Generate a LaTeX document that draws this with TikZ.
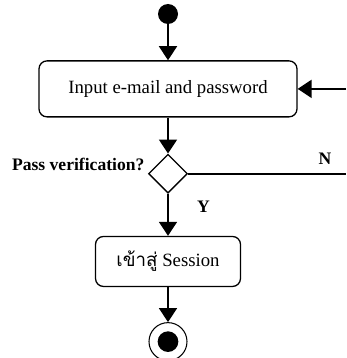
\documentclass[tikz,border=0pt]{standalone}
\usepackage{fontspec}
\setmainfont{Liberation Serif}
\newfontfamily\thaifont[Script=Thai]{Loma}
\usetikzlibrary{positioning, shapes.geometric, arrows.meta}

\begin{document}
\begin{tikzpicture}[
initial/.style={circle, fill=black, minimum size=0.6cm, inner sep=0pt},
final/.style={circle, draw, line width=0.9pt, minimum size=1.14cm, inner sep=0pt},
activity/.style={draw, rounded corners=0.24cm, line width=1.1pt, font=\fontsize{16}{18}\selectfont},
decision/.style={diamond, draw, line width=1.1pt, minimum size=1.17cm, inner sep=0pt},
guard/.style={font=\bfseries\fontsize{15}{17}\selectfont},
arrow/.style={-{Triangle[length=0.42cm, width=0.54cm]}, line width=1.5pt},
line/.style={line width=1.5pt},
]
\useasboundingbox (0,0) rectangle (10.38,-10.74);

\node[initial] (start) at (5.04,-0.42) {};
\node[activity, minimum width=7.74cm, minimum height=1.68cm] (input) [below=1.08cm of start] {Input e-mail and password};
\node[decision] (verify) [below=1.08cm of input] {};
\node[activity, minimum width=4.35cm, minimum height=1.5cm] (login) [below=1.26cm of verify] {{\thaifont เข้าสู่} Session};
\node[final] (stop) [below=1.05cm of login] {};
\node[initial, minimum size=0.62cm] (stopdot) at (stop) {};

\node[guard, anchor=base east] (question) at ([xshift=0.02cm, yshift=0.1cm]verify.west) {Pass verification?};

\coordinate (edge) at (10.38,0);

\draw[arrow] (start) -- (input);
\draw[arrow] (input) -- (verify);
\draw[arrow] (verify) -- (login);
\draw[arrow] (login) -- (stop);
\draw[arrow] (input.east -| edge) -- (input.east);
\draw[line] (verify.east) -- (verify.east -| edge);

\node[guard] (no) at ([xshift=-0.63cm, yshift=0.45cm]verify.east -| edge) {N};
\node[guard] (yes) [below right=0.08cm and 0.75cm of verify.south] {Y};

\end{tikzpicture}
\end{document}
